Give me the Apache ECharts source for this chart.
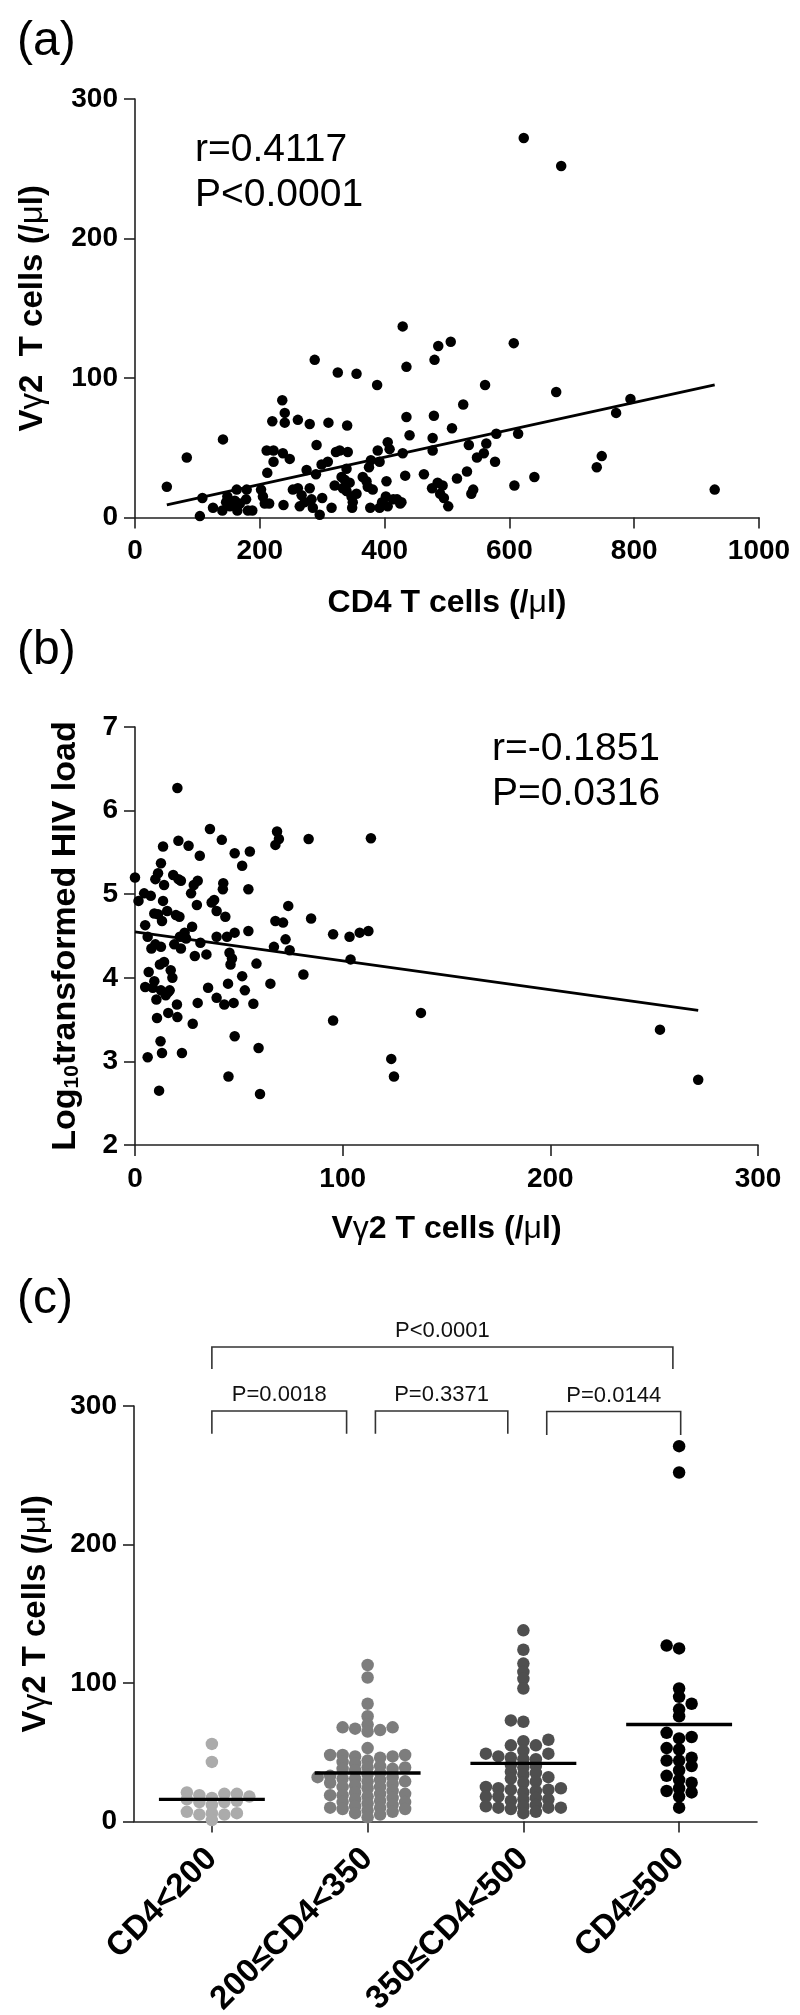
<!DOCTYPE html>
<html><head><meta charset="utf-8">
<script src="https://cdn.jsdelivr.net/npm/echarts@6/dist/echarts.min.js"></script>
<style>html,body{margin:0;padding:0;background:#fff}#c{width:800px;height:2015px}</style>
</head><body><div id="c"></div>
<script>
// ---------------- Panel (a): CD4 T cells vs Vγ2 T cells ----------------
const aPoints = [
 [51,22],[83,43],[104,1],[108,14],[125,7],[141,56],[140,5],[146,11],[148,15],[152,8],[160,12],[163,20],[164,5],[168,10],[179,20],[178,13],[181,5],[188,5],
 [202,20],[205,15],[208,10],[211,48],[222,48],[212,32],[222,40],[220,69],[236,84],[240,75],[240,68],[237,46],[248,42],[238,9],[261,70],[280,67],[310,68],[340,66],[291,52],[253,20],[261,21],[267,16],[272,11],[275,34],[280,21],[283,13],[285,7],[296,2],[290,31],[300,14],[299,38],[309,40],[315,7],[322,47],[328,48],[341,47],[320,23],[331,29],[336,27],[339,35],[333,21],[344,25],[347,15],[349,11],[348,7],[339,19],[264,8],[288,113],[325,104],[215,10],
 [355,17],[365,29],[371,26],[373,22],[375,36],[378,41],[377,7],[392,7],[381,20],[389,48],[392,40],[405,54],[403,26],[396,11],[402,15],[405,8],[355,103],[388,95],[408,49],[414,13],[420,13],[425,10],[429,137],[429,46],[433,30],[435,108],[435,72],[440,59],[463,31],[479,73],[477,57],[477,48],[476,21],[480,113],[485,25],[486,123],[489,17],[495,14],[493,23],[427,11],
 [502,8],[506,126],[508,64],[516,28],[526,81],[532,33],[535,52],[539,17],[542,20],[548,43],[559,46],[561,95],[563,53],[577,40],[579,60],[607,125],[608,23],[614,60],[623,272],[640,29],[675,90],[683,252],[740,36],[748,44],[771,75],[794,85],[929,20]
];
const aFit = [[51, 9.1], [929, 95.1]];
const aStats = ['r=0.4117', 'P<0.0001'];

// ---------------- Panel (b): Vγ2 T cells vs log10 HIV load ----------------
const bPoints = [
 [0,5.20],[1.7,4.92],[4.4,5.01],[4.9,4.63],[6.1,4.49],[6.6,4.07],[4.9,3.89],[6.1,3.05],[7.6,4.98],[8.6,3.88],[9.3,4.77],[7.9,4.35],[9.8,5.18],[10.6,3.52],[10.3,3.74],[11.1,4.76],[9.3,3.96],[9.8,4.40],[11.6,2.65],[12.3,3.24],[13,3.10],[11.1,5.25],[12.5,5.37],[13.5,5.57],[13.5,4.92],[14,5.11],[13,4.68],[12.5,4.37],[14,4.19],[12,4.16],[12.5,3.85],[14.8,3.79],[16,3.83],[16,3.58],[15.5,4.80],[16.7,3.85],[17.2,4.09],[18,4.0],[18.4,5.23],[19.7,4.75],[18.9,4.40],[20.2,3.68],[20.4,3.53],[20.4,6.27],[20.9,5.64],[20.9,5.18],[21.4,4.73],[22.6,3.10],[22.1,5.16],[21.6,4.49],[22.1,4.35],[23.4,4.49],[23.9,4.54],[24.6,4.47],[25.8,5.58],[27,5.01],[27.5,4.61],[27.8,3.45],[28.3,5.11],[28.8,4.26],[29.8,4.87],[30.2,3.70],[30.2,5.16],[31.2,5.46],[31.5,4.42],[34.4,4.28],[35.2,3.88],[36.1,5.78],[36.9,4.90],[38.1,4.93],[39.3,4.80],[39.3,4.49],[39.3,3.76],[41.8,5.65],[42.3,5.06],[42.5,5.13],[43,3.68],[43.5,4.73],[44.3,4.49],[44.8,3.93],[45,2.82],[45.5,4.30],[46,4.16],[46.7,4.23],[47.5,3.70],[48,4.54],[48,5.49],[48,3.30],[51.6,5.34],[51.6,4.02],[52.9,3.85],[54.6,5.06],[54.6,4.56],[55.3,5.51],[57,3.69],[58.5,4.17],[59.5,3.16],[60.2,2.61],[65.2,3.93],[66.9,4.37],[67.6,5.59],[68.4,5.75],[69.3,5.66],[67.6,4.68],[71.3,4.66],[73.8,4.86],[72.5,4.46],[74.5,4.33],[81.1,4.04],[83.6,5.66],[84.8,4.71],[95.4,4.52],[95.4,3.49],[103.3,4.49],[103.8,4.22],[108.2,4.54],[112.4,4.56],[113.6,5.67],[123.4,3.03],[124.7,2.82],[137.7,3.58],[252.8,3.38],[271.2,2.78]
];
const bFit = [[0, 4.55], [271.2, 3.61]];
const bStats = ['r=-0.1851', 'P=0.0316'];

// ---------------- Panel (c): Vγ2 T cells by CD4 group ----------------
const cCategories = ['CD4<200', '200≤CD4<350', '350≤CD4<500', 'CD4≥500'];
const cGroup1 = [56,43,21,20,20,19,18,17,16,15,14,14,12,7,6,6,5,5,1];
const cGroup2 = [113,104,85,76,70,68,68,67,66,65,53,48,48,48,47,47,46,44,43,42,40,39,39,38,38,37,35,34,33,32,32,31,31,30,29,29,28,27,26,25,25,24,22,21,20,20,19,19,18,17,16,15,14,14,13,12,11,10,10,9,9,8,7,6,5,3];
const cGroup3 = [138,124,114,108,103,96,73,72,59,58,55,55,51,49,49,47,46,45,45,41,40,39,36,35,34,32,31,29,28,25,24,24,23,23,22,21,18,18,17,16,16,15,12,11,11,10,10,10,9,7,6];
const cGroup4 = [271,252,127,125,96,90,85,81,76,64,61,60,53,52,46,44,44,40,37,33,30,28,24,22,21,18,10];
const cMeans = [16, 35, 42, 70];
// brackets: [from category pos, to category pos, top value, leg-end value]
const cBrackets = [[0, 0.865, 296.4, 280], [1.05, 1.90, 296.4, 280], [2.15, 3.01, 296, 279], [0, 2.96, 342.6, 326.7]];
const cBracketLabels = ['P=0.0018', 'P=0.3371', 'P=0.0144', 'P<0.0001'];

// ---------------- layout ----------------
const FONT = "'Liberation Sans', Arial, Helvetica, sans-serif";
const GA = {left: 135, top: 99, width: 624, height: 418.5};
const GB = {left: 135, top: 727, width: 623, height: 418};
const GC = {left: 134, top: 1406, width: 623, height: 415.5};
const AX = '#222';
const groupColors = ['#ababab', '#7d7d7d', '#4f4f4f', '#000000'];

// column-grid beeswarm layout (pixel space -> category units)
function swarmOffsets(values) {
  const pxPerVal = GC.height / 300, band = GC.width / 4;
  const step = 12.5, dyMin = 6.5;
  const cols = {}, out = new Array(values.length);
  let right = 0, left = 0;
  const order = values.map((v, i) => i).sort((i, j) => values[i] - values[j]);
  const free = (k, y) => (cols[k] || []).every(yy => Math.abs(yy - y) >= dyMin);
  for (const i of order) {
    const y = values[i] * pxPerVal;
    let k = 0;
    if (!free(0, y)) {
      for (let m = 1; m < 60; m++) {
        const cand = right > left ? [-m, m] : [m, -m];
        const hit = cand.find(c => free(c, y));
        if (hit !== undefined) { k = hit; break; }
      }
    }
    (cols[k] = cols[k] || []).push(y);
    if (k > 0) right++; else if (k < 0) left++;
    out[i] = k * step / band;
  }
  return out;
}

const tickLabel = {color: '#000', fontFamily: FONT, fontWeight: 'bold', fontSize: 28};
const nameStyle = (size) => ({color: '#000', fontFamily: FONT, fontWeight: 'bold', fontSize: size,
  rich: {g: {fontFamily: FONT, fontWeight: 'normal', fontSize: size, color: '#000'},
         sub: {fontFamily: FONT, fontWeight: 'bold', fontSize: Math.round(size * 0.62), color: '#000', verticalAlign: 'bottom'}}});

function valueAxis(grid, min, max, interval, labelMargin, extra) {
  return Object.assign({
    type: 'value', gridIndex: grid, min: min, max: max, interval: interval,
    axisLine: {show: true, onZero: false, lineStyle: {color: AX, width: 1.6}},
    axisTick: {show: true, length: 11, lineStyle: {color: AX, width: 1.6}},
    splitLine: {show: false},
    axisLabel: Object.assign({margin: labelMargin, showMinLabel: true, showMaxLabel: true, formatter: v => String(v)}, tickLabel)
  }, extra || {});
}

const groups = [cGroup1, cGroup2, cGroup3, cGroup4];
const swarmSeries = groups.map((vals, gi) => {
  const offs = swarmOffsets(vals);
  return {
    type: 'scatter', xAxisIndex: 3, yAxisIndex: 2, symbolSize: 12.5, z: 3,
    itemStyle: {color: groupColors[gi], opacity: 1},
    data: vals.map((v, i) => [gi + offs[i], v])
  };
});

const txt = (x, y, text, size) => ({type: 'text', x: x, y: y,
  style: {text: text, font: size + 'px ' + FONT, fill: '#000', textAlign: 'left', textVerticalAlign: 'middle', align: 'left', verticalAlign: 'middle'}});

const chart = echarts.init(document.getElementById('c'), null, {renderer: 'canvas'});
const option = {
  animation: false,
  backgroundColor: '#fff',
  grid: [
    Object.assign({containLabel: false, outerBoundsMode: 'none'}, GA),
    Object.assign({containLabel: false, outerBoundsMode: 'none'}, GB),
    Object.assign({containLabel: false, outerBoundsMode: 'none'}, GC)
  ],
  xAxis: [
    valueAxis(0, 0, 1000, 200, 20, {name: 'CD4 T cells (/{g|μ}l)', nameLocation: 'middle', nameGap: 70, nameTextStyle: nameStyle(32)}),
    valueAxis(1, 0, 300, 100, 20, {name: 'V{g|γ}2 T cells (/{g|μ}l)', nameLocation: 'middle', nameGap: 68, nameTextStyle: nameStyle(32)}),
    {type: 'category', gridIndex: 2, data: cCategories, boundaryGap: true,
     axisLine: {show: true, lineStyle: {color: AX, width: 1.6}},
     axisTick: {show: true, alignWithLabel: true, length: 11, lineStyle: {color: AX, width: 1.6}},
     splitLine: {show: false},
     axisLabel: {rotate: 45, interval: 0, margin: 32, color: '#000', fontFamily: FONT, fontWeight: 'bold', fontSize: 33}},
    {type: 'value', gridIndex: 2, min: -0.5, max: 3.5, show: false, splitLine: {show: false}}
  ],
  yAxis: [
    valueAxis(0, 0, 300, 100, 17, {name: 'V{g|γ}2  T cells (/{g|μ}l)', nameLocation: 'middle', nameRotate: 90, nameGap: 86, nameTextStyle: nameStyle(33)}),
    valueAxis(1, 2, 7, 1, 17, {name: 'Log{sub|10}transformed HIV load', nameLocation: 'middle', nameRotate: 90, nameGap: 52, nameTextStyle: nameStyle(34)}),
    valueAxis(2, 0, 300, 100, 17, {name: 'V{g|γ}2 T cells (/{g|μ}l)', nameLocation: 'middle', nameRotate: 90, nameGap: 82, nameTextStyle: nameStyle(33)})
  ],
  series: [
    {type: 'scatter', xAxisIndex: 0, yAxisIndex: 0, symbolSize: 10.5, itemStyle: {color: '#000', opacity: 1}, data: aPoints},
    {type: 'line', xAxisIndex: 0, yAxisIndex: 0, showSymbol: false, symbol: 'none', lineStyle: {color: '#000', width: 2.8}, data: aFit},
    {type: 'scatter', xAxisIndex: 1, yAxisIndex: 1, symbolSize: 10.5, itemStyle: {color: '#000', opacity: 1}, data: bPoints},
    {type: 'line', xAxisIndex: 1, yAxisIndex: 1, showSymbol: false, symbol: 'none', lineStyle: {color: '#000', width: 2.8}, data: bFit},
    ...swarmSeries,
    {type: 'custom', xAxisIndex: 3, yAxisIndex: 2, z: 5, clip: false,
     data: cMeans.map((m, i) => [i, m]),
     renderItem: function (params, api) {
       const i = api.value(0), m = api.value(1);
       const p1 = api.coord([i - 0.34, m]), p2 = api.coord([i + 0.34, m]);
       return {type: 'line', shape: {x1: p1[0], y1: p1[1], x2: p2[0], y2: p2[1]}, style: {stroke: '#000', lineWidth: 3.4}};
     }},
    {type: 'custom', xAxisIndex: 3, yAxisIndex: 2, z: 5, clip: false,
     encode: {x: [0, 1], y: [2, 3]},
     data: cBrackets,
     renderItem: function (params, api) {
       const x1 = api.value(0), x2 = api.value(1), yt = api.value(2), yb = api.value(3);
       const a = api.coord([x1, yb]), b = api.coord([x1, yt]), c = api.coord([x2, yt]), d = api.coord([x2, yb]);
       return {type: 'group', children: [
         {type: 'polyline', shape: {points: [a, b, c, d]}, style: {stroke: '#333', lineWidth: 1.6, fill: null}},
         {type: 'text', x: (b[0] + c[0]) / 2, y: b[1] - 5,
          style: {text: cBracketLabels[params.dataIndex], font: '22px ' + FONT, fill: '#111', align: 'center', verticalAlign: 'bottom'}}
       ]};
     }}
  ],
  graphic: [
    txt(17, 42, '(a)', 48),
    txt(17, 651, '(b)', 48),
    txt(17, 1300, '(c)', 48),
    txt(195, 150, aStats[0], 39),
    txt(195, 195, aStats[1], 39),
    txt(492, 749, bStats[0], 39),
    txt(492, 794, bStats[1], 39)
  ]
};
chart.setOption(option);
</script>
</body></html>
